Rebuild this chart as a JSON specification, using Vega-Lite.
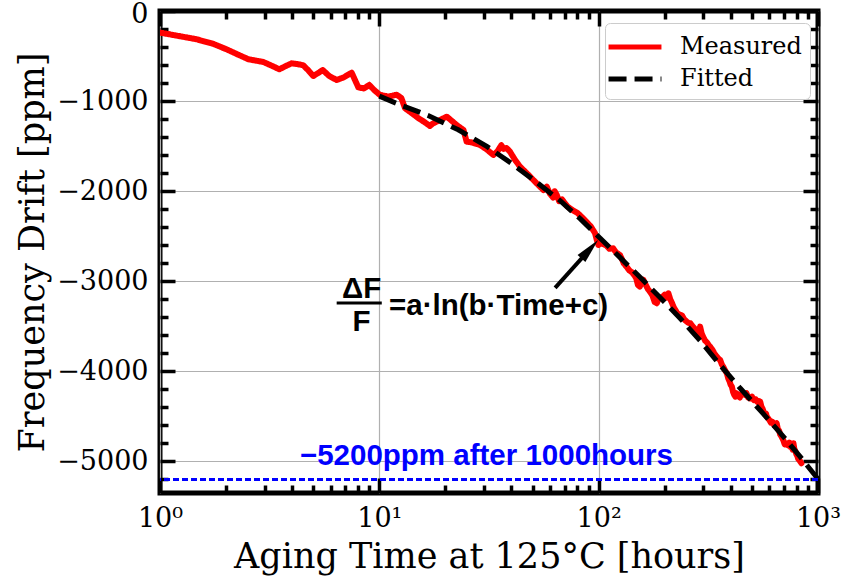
{
  "$schema": "https://vega.github.io/schema/vega-lite/v6.json",
  "width": 658,
  "height": 482,
  "autosize": {"type": "none"},
  "padding": {"left": 160, "top": 11, "right": 26, "bottom": 88},
  "background": "white",
  "config": {
    "view": {"stroke": "black", "strokeWidth": 5},
    "axis": {
      "domain": false,
      "labelFont": "DejaVu Serif",
      "titleFont": "DejaVu Serif",
      "labelFontSize": 27,
      "titleFontSize": 35,
      "titleFontWeight": "normal",
      "labelColor": "black",
      "titleColor": "black",
      "tickColor": "black",
      "tickWidth": 3.5,
      "gridColor": "#b0b0b0",
      "gridWidth": 1.2,
      "gridOpacity": 1
    }
  },
  "datasets": {
    "measured": [
      {"x": 1.0, "y": -240, "s": "Measured"}, {"x": 1.2, "y": -275, "s": "Measured"}, {"x": 1.47, "y": -314, "s": "Measured"},
      {"x": 1.75, "y": -365, "s": "Measured"}, {"x": 2.01, "y": -425, "s": "Measured"}, {"x": 2.25, "y": -480, "s": "Measured"},
      {"x": 2.53, "y": -536, "s": "Measured"}, {"x": 2.96, "y": -566, "s": "Measured"}, {"x": 3.25, "y": -610, "s": "Measured"},
      {"x": 3.5, "y": -647, "s": "Measured"}, {"x": 3.75, "y": -610, "s": "Measured"}, {"x": 3.98, "y": -581, "s": "Measured"},
      {"x": 4.25, "y": -590, "s": "Measured"}, {"x": 4.5, "y": -603, "s": "Measured"}, {"x": 4.75, "y": -660, "s": "Measured"},
      {"x": 5.0, "y": -721, "s": "Measured"}, {"x": 5.25, "y": -690, "s": "Measured"}, {"x": 5.52, "y": -655, "s": "Measured"},
      {"x": 5.9, "y": -720, "s": "Measured"}, {"x": 6.39, "y": -766, "s": "Measured"}, {"x": 6.9, "y": -735, "s": "Measured"},
      {"x": 7.48, "y": -685, "s": "Measured"}, {"x": 8.02, "y": -847, "s": "Measured"}, {"x": 8.5, "y": -860, "s": "Measured"},
      {"x": 9.0, "y": -821, "s": "Measured"}, {"x": 9.5, "y": -880, "s": "Measured"}, {"x": 10.07, "y": -932, "s": "Measured"},
      {"x": 11.0, "y": -950, "s": "Measured"}, {"x": 12.0, "y": -930, "s": "Measured"}, {"x": 12.6, "y": -965, "s": "Measured"},
      {"x": 13.1, "y": -1080, "s": "Measured"}, {"x": 14.0, "y": -1130, "s": "Measured"}, {"x": 15.1, "y": -1191, "s": "Measured"},
      {"x": 16.0, "y": -1230, "s": "Measured"}, {"x": 17.0, "y": -1276, "s": "Measured"}, {"x": 17.5, "y": -1250, "s": "Measured"},
      {"x": 18.9, "y": -1210, "s": "Measured"}, {"x": 20.3, "y": -1173, "s": "Measured"}, {"x": 21.3, "y": -1215, "s": "Measured"},
      {"x": 22.5, "y": -1265, "s": "Measured"}, {"x": 24.2, "y": -1321, "s": "Measured"}, {"x": 25.0, "y": -1450, "s": "Measured"},
      {"x": 26.5, "y": -1460, "s": "Measured"}, {"x": 28.8, "y": -1487, "s": "Measured"}, {"x": 31.0, "y": -1540, "s": "Measured"},
      {"x": 33.1, "y": -1598, "s": "Measured"}, {"x": 34.5, "y": -1560, "s": "Measured"}, {"x": 36.0, "y": -1490, "s": "Measured"},
      {"x": 36.8, "y": -1530, "s": "Measured"}, {"x": 38.0, "y": -1520, "s": "Measured"}, {"x": 39.4, "y": -1561, "s": "Measured"},
      {"x": 41.5, "y": -1650, "s": "Measured"}, {"x": 43.8, "y": -1728, "s": "Measured"}, {"x": 47.0, "y": -1800, "s": "Measured"},
      {"x": 50.4, "y": -1876, "s": "Measured"}, {"x": 53.0, "y": -1930, "s": "Measured"}, {"x": 56.0, "y": -1987, "s": "Measured"},
      {"x": 58.0, "y": -1950, "s": "Measured"}, {"x": 60.0, "y": -2030, "s": "Measured"}, {"x": 62.0, "y": -2070, "s": "Measured"},
      {"x": 63.0, "y": -2000, "s": "Measured"}, {"x": 64.4, "y": -2042, "s": "Measured"}, {"x": 66.0, "y": -2110, "s": "Measured"},
      {"x": 68.0, "y": -2090, "s": "Measured"}, {"x": 72.0, "y": -2170, "s": "Measured"}, {"x": 76.0, "y": -2210, "s": "Measured"},
      {"x": 80.0, "y": -2240, "s": "Measured"}, {"x": 84.0, "y": -2290, "s": "Measured"}, {"x": 88.0, "y": -2340, "s": "Measured"},
      {"x": 92.0, "y": -2390, "s": "Measured"}, {"x": 96.3, "y": -2467, "s": "Measured"}, {"x": 98, "y": -2540, "s": "Measured"},
      {"x": 99.8, "y": -2597, "s": "Measured"}, {"x": 102, "y": -2560, "s": "Measured"}, {"x": 104, "y": -2585, "s": "Measured"},
      {"x": 108, "y": -2600, "s": "Measured"}, {"x": 112, "y": -2640, "s": "Measured"}, {"x": 116.4, "y": -2634, "s": "Measured"},
      {"x": 120, "y": -2680, "s": "Measured"}, {"x": 125, "y": -2708, "s": "Measured"}, {"x": 128, "y": -2760, "s": "Measured"},
      {"x": 130, "y": -2800, "s": "Measured"}, {"x": 134, "y": -2838, "s": "Measured"}, {"x": 138, "y": -2880, "s": "Measured"},
      {"x": 142, "y": -2900, "s": "Measured"}, {"x": 148, "y": -2960, "s": "Measured"}, {"x": 151, "y": -3040, "s": "Measured"},
      {"x": 154, "y": -3060, "s": "Measured"}, {"x": 157, "y": -3010, "s": "Measured"}, {"x": 160, "y": -2985, "s": "Measured"},
      {"x": 164, "y": -3040, "s": "Measured"}, {"x": 168, "y": -3090, "s": "Measured"}, {"x": 172, "y": -3120, "s": "Measured"},
      {"x": 176, "y": -3160, "s": "Measured"}, {"x": 180, "y": -3230, "s": "Measured"}, {"x": 184, "y": -3244, "s": "Measured"},
      {"x": 188, "y": -3190, "s": "Measured"}, {"x": 192, "y": -3180, "s": "Measured"}, {"x": 196, "y": -3170, "s": "Measured"},
      {"x": 200, "y": -3150, "s": "Measured"}, {"x": 204, "y": -3180, "s": "Measured"}, {"x": 208, "y": -3133, "s": "Measured"},
      {"x": 212, "y": -3200, "s": "Measured"}, {"x": 215, "y": -3230, "s": "Measured"}, {"x": 220, "y": -3290, "s": "Measured"},
      {"x": 224, "y": -3320, "s": "Measured"}, {"x": 228, "y": -3355, "s": "Measured"}, {"x": 234, "y": -3370, "s": "Measured"},
      {"x": 240, "y": -3380, "s": "Measured"}, {"x": 245, "y": -3420, "s": "Measured"}, {"x": 250, "y": -3440, "s": "Measured"},
      {"x": 256, "y": -3460, "s": "Measured"}, {"x": 262, "y": -3466, "s": "Measured"}, {"x": 268, "y": -3500, "s": "Measured"},
      {"x": 275, "y": -3530, "s": "Measured"}, {"x": 280, "y": -3580, "s": "Measured"}, {"x": 286, "y": -3614, "s": "Measured"},
      {"x": 288, "y": -3540, "s": "Measured"}, {"x": 290, "y": -3503, "s": "Measured"}, {"x": 295, "y": -3580, "s": "Measured"},
      {"x": 300, "y": -3620, "s": "Measured"}, {"x": 306, "y": -3660, "s": "Measured"}, {"x": 312, "y": -3680, "s": "Measured"},
      {"x": 318, "y": -3710, "s": "Measured"}, {"x": 322, "y": -3725, "s": "Measured"}, {"x": 330, "y": -3760, "s": "Measured"},
      {"x": 335, "y": -3790, "s": "Measured"}, {"x": 341, "y": -3820, "s": "Measured"}, {"x": 347, "y": -3840, "s": "Measured"},
      {"x": 352, "y": -3860, "s": "Measured"}, {"x": 358, "y": -3873, "s": "Measured"}, {"x": 364, "y": -3920, "s": "Measured"},
      {"x": 370, "y": -3950, "s": "Measured"}, {"x": 377, "y": -3990, "s": "Measured"}, {"x": 384, "y": -4021, "s": "Measured"},
      {"x": 390, "y": -4080, "s": "Measured"}, {"x": 395, "y": -4110, "s": "Measured"}, {"x": 400, "y": -4150, "s": "Measured"},
      {"x": 405, "y": -4170, "s": "Measured"}, {"x": 410, "y": -4230, "s": "Measured"}, {"x": 415, "y": -4260, "s": "Measured"},
      {"x": 420, "y": -4280, "s": "Measured"}, {"x": 425, "y": -4243, "s": "Measured"}, {"x": 432, "y": -4270, "s": "Measured"},
      {"x": 440, "y": -4290, "s": "Measured"}, {"x": 447, "y": -4250, "s": "Measured"}, {"x": 455, "y": -4240, "s": "Measured"},
      {"x": 463, "y": -4260, "s": "Measured"}, {"x": 472, "y": -4243, "s": "Measured"}, {"x": 480, "y": -4290, "s": "Measured"},
      {"x": 490, "y": -4300, "s": "Measured"}, {"x": 500, "y": -4280, "s": "Measured"}, {"x": 510, "y": -4320, "s": "Measured"},
      {"x": 520, "y": -4310, "s": "Measured"}, {"x": 530, "y": -4340, "s": "Measured"}, {"x": 538, "y": -4330, "s": "Measured"},
      {"x": 545, "y": -4336, "s": "Measured"}, {"x": 552, "y": -4390, "s": "Measured"}, {"x": 560, "y": -4420, "s": "Measured"},
      {"x": 567, "y": -4460, "s": "Measured"}, {"x": 574, "y": -4480, "s": "Measured"}, {"x": 580, "y": -4470, "s": "Measured"},
      {"x": 584, "y": -4503, "s": "Measured"}, {"x": 592, "y": -4520, "s": "Measured"}, {"x": 600, "y": -4540, "s": "Measured"},
      {"x": 610, "y": -4570, "s": "Measured"}, {"x": 620, "y": -4560, "s": "Measured"}, {"x": 632, "y": -4600, "s": "Measured"},
      {"x": 648, "y": -4576, "s": "Measured"}, {"x": 656, "y": -4640, "s": "Measured"}, {"x": 665, "y": -4660, "s": "Measured"},
      {"x": 672, "y": -4700, "s": "Measured"}, {"x": 680, "y": -4720, "s": "Measured"}, {"x": 687, "y": -4740, "s": "Measured"},
      {"x": 694, "y": -4761, "s": "Measured"}, {"x": 705, "y": -4810, "s": "Measured"}, {"x": 715, "y": -4800, "s": "Measured"},
      {"x": 728, "y": -4820, "s": "Measured"}, {"x": 740, "y": -4790, "s": "Measured"}, {"x": 750, "y": -4840, "s": "Measured"},
      {"x": 760, "y": -4830, "s": "Measured"}, {"x": 767, "y": -4870, "s": "Measured"}, {"x": 773, "y": -4798, "s": "Measured"},
      {"x": 780, "y": -4860, "s": "Measured"}, {"x": 790, "y": -4890, "s": "Measured"}, {"x": 797, "y": -4920, "s": "Measured"},
      {"x": 805, "y": -4940, "s": "Measured"}, {"x": 812, "y": -4970, "s": "Measured"}, {"x": 822, "y": -4985, "s": "Measured"},
      {"x": 830, "y": -5000, "s": "Measured"}, {"x": 840, "y": -5020, "s": "Measured"}
    ],
    "fitted": [
      {"x": 10, "y": -945, "s": "Fitted"}, {"x": 12.4, "y": -1040, "s": "Fitted"}, {"x": 16.7, "y": -1160, "s": "Fitted"},
      {"x": 22.9, "y": -1318, "s": "Fitted"}, {"x": 30.9, "y": -1503, "s": "Fitted"}, {"x": 40.1, "y": -1692, "s": "Fitted"},
      {"x": 52.1, "y": -1900, "s": "Fitted"}, {"x": 66.7, "y": -2105, "s": "Fitted"}, {"x": 82.3, "y": -2305, "s": "Fitted"},
      {"x": 101.4, "y": -2520, "s": "Fitted"}, {"x": 125, "y": -2735, "s": "Fitted"}, {"x": 154.5, "y": -2956, "s": "Fitted"},
      {"x": 190.5, "y": -3181, "s": "Fitted"}, {"x": 235, "y": -3410, "s": "Fitted"}, {"x": 290, "y": -3658, "s": "Fitted"},
      {"x": 358, "y": -3930, "s": "Fitted"}, {"x": 441, "y": -4185, "s": "Fitted"}, {"x": 545, "y": -4432, "s": "Fitted"},
      {"x": 672, "y": -4682, "s": "Fitted"}, {"x": 829, "y": -4946, "s": "Fitted"}, {"x": 1000, "y": -5195, "s": "Fitted"}
    ],
    "formula": [
      {"x": 8.3, "y": -3085, "t": "ΔF"},
      {"x": 8.3, "y": -3455, "t": "F"},
      {"x": 34.98, "y": -3273, "t": "=a·ln(b·Time+c)"}
    ],
    "fracbar": [{"x": 6.39, "x2": 10.26, "y": -3240}],
    "arrow": [{"x": 63.3, "y": -3074, "x2": 91.1, "y2": -2645}],
    "limit": [{"y": -5200}],
    "note": [{"x": 30.8, "y": -4942, "t": "−5200ppm after 1000hours"}]
  },
  "resolve": {"axis": {"x": "independent", "y": "independent"}},
  "layer": [
    {
      "data": {"name": "measured"},
      "mark": {"type": "line", "strokeWidth": 6, "strokeJoin": "round", "strokeCap": "round", "clip": true},
      "encoding": {
        "x": {"field": "x", "type": "quantitative", "scale": {"type": "log", "domain": [1, 1000], "nice": false},
          "axis": {"orient": "bottom", "offset": 0, "values": [1, 10, 100, 1000], "labelExpr": "datum.value == 1 ? '10⁰' : datum.value == 10 ? '10¹' : datum.value == 100 ? '10²' : '10³'",
            "labelFlush": false, "labelOverlap": false, "ticks": false, "grid": true, "labelPadding": 12, "title": "Aging Time at 125°C [hours]", "titlePadding": 8}},
        "y": {"field": "y", "type": "quantitative", "scale": {"domain": [-5350, 0], "nice": false, "zero": false},
          "axis": {"orient": "left", "offset": 0, "values": [-1000, -2000, -3000, -4000, -5000], "format": "d",
            "labelFlush": false, "labelOverlap": false, "ticks": false, "grid": true, "labelPadding": 12, "title": "Frequency Drift [ppm]", "titlePadding": 6}},
        "color": {"field": "s", "type": "nominal", "scale": {"domain": ["Measured", "Fitted"], "range": ["#ff0000", "#000000"]},
          "legend": {"orient": "none", "legendX": 445, "legendY": 12, "title": null, "symbolType": "M-2,0H2", "symbolSize": 700, "symbolStrokeWidth": 5,
            "labelFont": "DejaVu Serif", "labelFontSize": 24, "labelColor": "black", "fillColor": "white", "strokeColor": "#cccccc", "cornerRadius": 5,
            "padding": 8, "rowPadding": 4, "symbolOffset": 6, "labelOffset": 29}},
        "strokeDash": {"field": "s", "type": "nominal", "scale": {"domain": ["Measured", "Fitted"], "range": [[1, 0], [18, 8]]},
          "legend": {"orient": "none", "legendX": 445, "legendY": 12, "title": null, "symbolType": "M-2,0H2", "symbolSize": 700, "symbolStrokeWidth": 5,
            "labelFont": "DejaVu Serif", "labelFontSize": 24, "labelColor": "black", "fillColor": "white", "strokeColor": "#cccccc", "cornerRadius": 5,
            "padding": 8, "rowPadding": 4, "symbolOffset": 6, "labelOffset": 29}}
      }
    },
    {
      "data": {"name": "fitted"},
      "mark": {"type": "line", "strokeWidth": 5, "strokeCap": "butt"},
      "encoding": {
        "x": {"field": "x", "type": "quantitative", "scale": {"type": "log", "domain": [1, 1000], "nice": false},
          "axis": {"orient": "bottom", "offset": 0, "values": [1, 10, 100, 1000], "labels": false, "ticks": true, "tickSize": -15, "grid": false, "title": null}},
        "y": {"field": "y", "type": "quantitative", "scale": {"domain": [-5350, 0], "nice": false, "zero": false},
          "axis": {"orient": "left", "offset": 0, "values": [0, -1000, -2000, -3000, -4000, -5000], "labels": false, "ticks": true, "tickSize": -15, "grid": false, "title": null}},
        "color": {"field": "s", "type": "nominal", "scale": {"domain": ["Measured", "Fitted"], "range": ["#ff0000", "#000000"]}},
        "strokeDash": {"field": "s", "type": "nominal", "scale": {"domain": ["Measured", "Fitted"], "range": [[1, 0], [18, 8]]}}
      }
    },
    {
      "data": {"name": "arrow"},
      "mark": {"type": "rule", "strokeWidth": 4, "color": "black"},
      "encoding": {
        "x": {"field": "x", "type": "quantitative", "scale": {"type": "log", "domain": [1, 1000], "nice": false},
          "axis": {"orient": "top", "offset": 0, "values": [1, 10, 100, 1000], "labels": false, "ticks": true, "tickSize": -15, "grid": false, "title": null}},
        "y": {"field": "y", "type": "quantitative", "scale": {"domain": [-5350, 0], "nice": false, "zero": false},
          "axis": {"orient": "right", "offset": 0, "values": [0, -1000, -2000, -3000, -4000, -5000], "labels": false, "ticks": true, "tickSize": -15, "grid": false, "title": null}},
        "x2": {"field": "x2"},
        "y2": {"field": "y2"}
      }
    },
    {
      "data": {"name": "arrow"},
      "mark": {"type": "point", "shape": "M0,-1L-0.42,1L0.42,1Z", "filled": true, "color": "black", "opacity": 1, "size": 625, "angle": 41.8},
      "encoding": {
        "x": {"field": "x2", "type": "quantitative", "scale": {"type": "log", "domain": [1, 1000], "nice": false},
          "axis": {"orient": "bottom", "offset": 0, "values": [2, 3, 4, 5, 6, 7, 8, 9, 20, 30, 40, 50, 60, 70, 80, 90, 200, 300, 400, 500, 600, 700, 800, 900], "labels": false, "ticks": true, "tickSize": -8, "grid": false, "title": null}},
        "y": {"field": "y2", "type": "quantitative", "scale": {"domain": [-5350, 0], "nice": false, "zero": false},
          "axis": {"orient": "left", "offset": 0, "values": [-200, -400, -600, -800, -1200, -1400, -1600, -1800, -2200, -2400, -2600, -2800, -3200, -3400, -3600, -3800, -4200, -4400, -4600, -4800, -5200], "labels": false, "ticks": true, "tickSize": -8, "grid": false, "title": null}}
      }
    },
    {
      "data": {"name": "formula"},
      "mark": {"type": "text", "font": "Liberation Sans", "fontWeight": "bold", "fontSize": 29.5, "color": "black", "align": "center", "baseline": "middle"},
      "encoding": {
        "x": {"field": "x", "type": "quantitative", "scale": {"type": "log", "domain": [1, 1000], "nice": false},
          "axis": {"orient": "top", "offset": 0, "values": [2, 3, 4, 5, 6, 7, 8, 9, 20, 30, 40, 50, 60, 70, 80, 90, 200, 300, 400, 500, 600, 700, 800, 900], "labels": false, "ticks": true, "tickSize": -8, "grid": false, "title": null}},
        "y": {"field": "y", "type": "quantitative", "scale": {"domain": [-5350, 0], "nice": false, "zero": false},
          "axis": {"orient": "right", "offset": 0, "values": [-200, -400, -600, -800, -1200, -1400, -1600, -1800, -2200, -2400, -2600, -2800, -3200, -3400, -3600, -3800, -4200, -4400, -4600, -4800, -5200], "labels": false, "ticks": true, "tickSize": -8, "grid": false, "title": null}},
        "text": {"field": "t", "type": "nominal"}
      }
    },
    {
      "data": {"name": "fracbar"},
      "mark": {"type": "rule", "strokeWidth": 3, "color": "black"},
      "encoding": {
        "x": {"field": "x", "type": "quantitative", "scale": {"type": "log", "domain": [1, 1000], "nice": false}, "axis": null},
        "x2": {"field": "x2"},
        "y": {"field": "y", "type": "quantitative", "scale": {"domain": [-5350, 0], "nice": false, "zero": false},
          "axis": {"orient": "left", "offset": 0, "values": [0], "format": "d", "labelFlush": false, "labelOverlap": false, "ticks": false, "grid": false, "labelPadding": 12, "labelOffset": 3, "title": null}}
      }
    },
    {
      "data": {"name": "limit"},
      "mark": {"type": "rule", "strokeWidth": 3, "color": "#0000ff", "strokeDash": [6, 3]},
      "encoding": {
        "y": {"field": "y", "type": "quantitative", "scale": {"domain": [-5350, 0], "nice": false, "zero": false}, "axis": null}
      }
    },
    {
      "data": {"name": "note"},
      "mark": {"type": "text", "font": "Liberation Sans", "fontWeight": "bold", "fontSize": 29.5, "color": "#0000ff", "align": "center", "baseline": "middle"},
      "encoding": {
        "x": {"field": "x", "type": "quantitative", "scale": {"type": "log", "domain": [1, 1000], "nice": false}, "axis": null},
        "y": {"field": "y", "type": "quantitative", "scale": {"domain": [-5350, 0], "nice": false, "zero": false}, "axis": null},
        "text": {"field": "t", "type": "nominal"}
      }
    }
  ]
}
